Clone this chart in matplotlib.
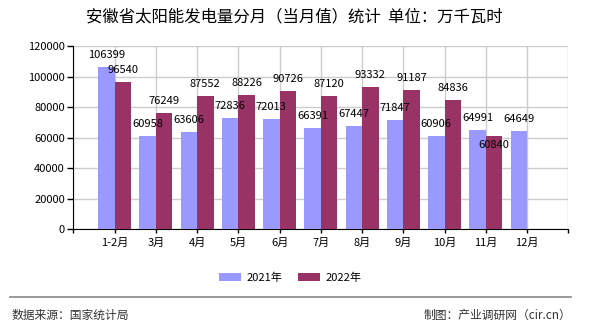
import numpy as np
import matplotlib
matplotlib.use('Agg')
import matplotlib.pyplot as plt
from matplotlib.lines import Line2D

plt.rcParams['font.family'] = ['Noto Sans CJK SC', 'DejaVu Sans']

months = ['1-2月', '3月', '4月', '5月', '6月', '7月', '8月', '9月', '10月', '11月', '12月']
v2021 = [106399, 60958, 63606, 72836, 72013, 66391, 67447, 71847, 60906, 64991, 64649]
v2022 = [96540, 76249, 87552, 88226, 90726, 87120, 93332, 91187, 84836, 60840]
series_names = ['2021年', '2022年']
yticks = [0, 20000, 40000, 60000, 80000, 100000, 120000]

c2021 = '#9999ff'
c2022 = '#993366'

fig = plt.figure(figsize=(5.9, 3.3), dpi=100)
ax = fig.add_axes([0.1243, 0.3052, 0.839, 0.5554])

pos = np.arange(1, len(months) + 1)
w = 0.4
b1 = ax.bar(pos[:len(v2021)] - w / 2, v2021, w, color=c2021, label=series_names[0], zorder=3)
b2 = ax.bar(pos[:len(v2022)] + w / 2, v2022, w, color=c2022, label=series_names[1], zorder=3)

# data labels, roughly 12px above each bar
for bars, vals in ((b1, v2021), (b2, v2022)):
    for r, v in zip(bars, vals):
        dy = 8.6
        if bars is b2 and v == 60840:
            dy = -6.5   # sits under the top to clear the 64991 label
        ax.annotate(str(v), (r.get_x() + r.get_width() / 2, v), xytext=(0, dy),
                    textcoords='offset points', ha='center', va='center',
                    fontsize=8, color='black', zorder=5)

ax.set_xlim(0, len(months) + 1)
ax.set_ylim(0, 120000)
ax.set_xticks(np.arange(0, len(months) + 2))
ax.set_xticklabels([''] + months + [''])
ax.set_yticks(yticks)
ax.set_yticklabels([str(t) for t in yticks])
ax.tick_params(axis='both', labelsize=8, length=4, width=1, color='black', pad=2)
ax.tick_params(axis='x', length=3, pad=3)

ax.grid(True, color='#cccccc', linewidth=1, zorder=0)
ax.set_axisbelow(True)
ax.spines['top'].set_visible(False)
ax.spines['right'].set_visible(False)
ax.spines['left'].set_color('black')
ax.spines['bottom'].set_color('black')

fig.text(0.499, 0.948, '安徽省太阳能发电量分月（当月值）统计  单位：万千瓦时',
         ha='center', va='center', fontsize=11.8, color='black')

fig.legend(handles=[b1, b2], labels=series_names, loc='center',
           bbox_to_anchor=(0.492, 0.1585), ncol=2, frameon=False, fontsize=8,
           handlelength=1.95, handleheight=0.8, handletextpad=0.5, columnspacing=1.4)

fig.add_artist(Line2D([10 / 590, 571 / 590], [0.0985, 0.0985], color='#888888', linewidth=1.2))
fig.text(0.02, 0.0455, '数据来源：国家统计局', ha='left', va='center', fontsize=8.5, color='#333333')
fig.text(0.969, 0.0455, '制图：产业调研网（cir.cn）', ha='right', va='center', fontsize=8.5, color='#333333')

fig.savefig('out.png', dpi=100)
